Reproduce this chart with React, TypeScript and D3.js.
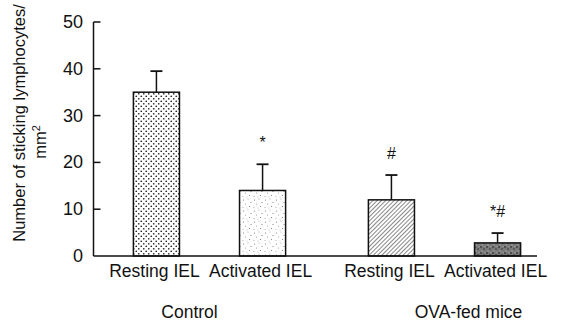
import React from "react";
import * as d3 from "d3";

const groups = ["Control", "OVA-fed mice"];
const cellTypes = ["Resting IEL", "Activated IEL"];
const means = [
  [35, 14],
  [12, 2.8],
];
const errors = [
  [4.5, 5.6],
  [5.3, 2.1],
];
const marks = [
  ["", "*"],
  ["#", "*#"],
];
const yTicks = [0, 10, 20, 30, 40, 50];
const yTitle = "Number of sticking lymphocytes/";
const yUnit = "mm";

const W = 565;
const H = 322;
const FONT = "'Liberation Sans', Arial, Helvetica, sans-serif";

export default function App() {
  const axisX = 93.5;
  const x0 = d3.scaleBand<string>().domain(groups).range([92, 562]).paddingInner(0).paddingOuter(0);
  const x1 = d3
    .scaleBand<string>()
    .domain(cellTypes)
    .range([0, x0.bandwidth()])
    .paddingInner(0.566)
    .paddingOuter(0.39);
  const y = d3.scaleLinear().domain([0, 50]).range([256, 22]);
  const fills = ["url(#pDots)", "url(#pStipple)", "url(#pHatch)", "url(#pDark)"];
  const groupOffsets = [-20, 24];

  return (
    <svg
      width={W}
      height={H}
      style={{ position: "absolute", left: 0, top: 0, background: "#fff" }}
      fontFamily={FONT}
    >
      <defs>
        <pattern id="pDots" width="5" height="5" patternUnits="userSpaceOnUse">
          <rect width="5" height="5" fill="#fff" />
          <circle cx="1.25" cy="1.25" r="0.85" fill="#222" />
          <circle cx="3.75" cy="3.75" r="0.85" fill="#222" />
        </pattern>
        <pattern id="pStipple" width="11" height="11" patternUnits="userSpaceOnUse">
          <rect width="11" height="11" fill="#fff" />
          <circle cx="1.5" cy="2" r="0.6" fill="#777" />
          <circle cx="6" cy="1" r="0.5" fill="#999" />
          <circle cx="9" cy="4.5" r="0.6" fill="#777" />
          <circle cx="3.5" cy="6" r="0.5" fill="#888" />
          <circle cx="7.5" cy="8.5" r="0.6" fill="#777" />
          <circle cx="1" cy="9.5" r="0.5" fill="#999" />
          <circle cx="5" cy="10" r="0.4" fill="#888" />
        </pattern>
        <pattern
          id="pHatch"
          width="3"
          height="3"
          patternUnits="userSpaceOnUse"
          patternTransform="rotate(45)"
        >
          <rect width="3" height="3" fill="#fff" />
          <line x1="0" y1="0" x2="0" y2="3" stroke="#555" strokeWidth="1.4" />
        </pattern>
        <pattern id="pDark" width="6" height="6" patternUnits="userSpaceOnUse">
          <rect width="6" height="6" fill="#7a7a7a" />
          <circle cx="1" cy="1" r="0.9" fill="#3a3a3a" />
          <circle cx="4" cy="3" r="0.9" fill="#4a4a4a" />
          <circle cx="2" cy="5" r="0.7" fill="#aaa" />
          <circle cx="5" cy="0.5" r="0.6" fill="#aaa" />
        </pattern>
      </defs>

      {/* bars */}
      {groups.map((g, gi) =>
        cellTypes.map((c, ci) => {
          const bx = (x0(g) ?? 0) + (x1(c) ?? 0);
          const bw = x1.bandwidth();
          const cx = bx + bw / 2;
          const v = means[gi][ci];
          const e = errors[gi][ci];
          const top = y(v);
          const et = y(v + e);
          return (
            <g key={g + c}>
              <rect
                x={bx}
                y={top}
                width={bw}
                height={y(0) - top}
                fill={fills[gi * 2 + ci]}
                stroke="#111"
                strokeWidth={1.5}
              />
              <line x1={cx} x2={cx} y1={top} y2={et} stroke="#111" strokeWidth={1.5} />
              <line x1={cx - 6} x2={cx + 6} y1={et} y2={et} stroke="#111" strokeWidth={1.8} />
              {marks[gi][ci] && (
                <text
                  x={cx}
                  y={et - 22}
                  textAnchor="middle"
                  dominantBaseline="central"
                  fontSize={16}
                  fill="#111"
                >
                  {marks[gi][ci]}
                </text>
              )}
              <text x={cx - 2} y={277} textAnchor="middle" fontSize={17.5} fill="#111">
                {c}
              </text>
            </g>
          );
        })
      )}

      {/* group labels */}
      {groups.map((g, gi) => (
        <text
          key={g}
          x={(x0(g) ?? 0) + x0.bandwidth() / 2 + groupOffsets[gi]}
          y={318}
          textAnchor="middle"
          fontSize={17.5}
          fill="#111"
        >
          {g}
        </text>
      ))}

      {/* axes */}
      <line x1={axisX} x2={537} y1={y(0)} y2={y(0)} stroke="#111" strokeWidth={1.5} />
      <line x1={axisX} x2={axisX} y1={y(0)} y2={y(50)} stroke="#111" strokeWidth={1.5} />
      {yTicks.map((t) => (
        <g key={t}>
          {t > 0 && (
            <line x1={axisX} x2={axisX + 7} y1={y(t)} y2={y(t)} stroke="#111" strokeWidth={1.5} />
          )}
          <text
            x={83}
            y={y(t)}
            textAnchor="end"
            dominantBaseline="central"
            fontSize={18}
            fill="#111"
          >
            {t}
          </text>
        </g>
      ))}

      {/* y title */}
      <text
        transform={`translate(25,123) rotate(-90)`}
        textAnchor="middle"
        fontSize={16.5}
        fill="#111"
      >
        {yTitle}
      </text>
      <text
        transform={`translate(46,142) rotate(-90)`}
        textAnchor="middle"
        fontSize={16.5}
        fill="#111"
      >
        {yUnit}
        <tspan dy={-6} fontSize={11}>
          2
        </tspan>
      </text>
    </svg>
  );
}
